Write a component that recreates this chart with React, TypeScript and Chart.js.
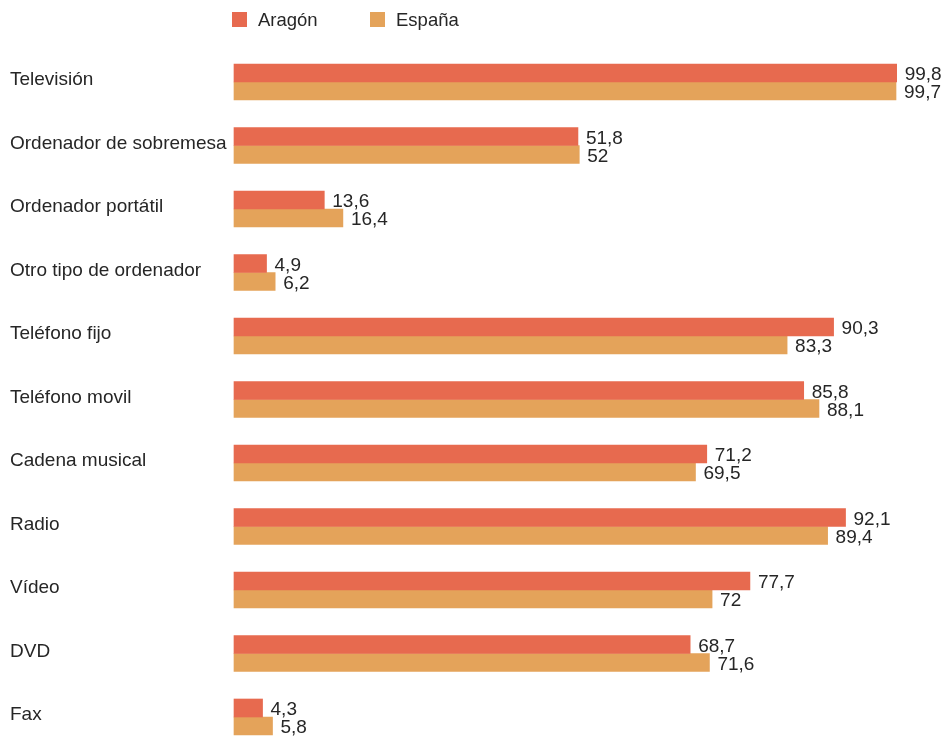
import React, { useEffect, useRef } from "react";
import { Chart, registerables } from "chart.js";

Chart.register(...registerables);

const categories = [
  "Televisión",
  "Ordenador de sobremesa",
  "Ordenador portátil",
  "Otro tipo de ordenador",
  "Teléfono fijo",
  "Teléfono movil",
  "Cadena musical",
  "Radio",
  "Vídeo",
  "DVD",
  "Fax",
];
const aragon = [99.8, 51.8, 13.6, 4.9, 90.3, 85.8, 71.2, 92.1, 77.7, 68.7, 4.3];
const espana = [99.7, 52, 16.4, 6.2, 83.3, 88.1, 69.5, 89.4, 72, 71.6, 5.8];
const seriesNames = ["Aragón", "España"];
const seriesColors = ["#E76A4F", "#E4A35A"];

const FONT = "'Liberation Sans', Arial, Helvetica, sans-serif";
const FONT_SIZE = 19;
const TEXT = "#262626";

const fmt = (v: number) => String(v).replace(".", ",");

const valueLabels = {
  id: "valueLabels",
  afterDatasetsDraw(chart: any) {
    const ctx = chart.ctx;
    ctx.save();
    ctx.font = `${FONT_SIZE}px ${FONT}`;
    ctx.fillStyle = TEXT;
    ctx.textAlign = "left";
    ctx.textBaseline = "middle";
    chart.data.datasets.forEach((ds: any, di: number) => {
      const meta = chart.getDatasetMeta(di);
      meta.data.forEach((bar: any, i: number) => {
        ctx.fillText(fmt(ds.data[i]), bar.x + 8, bar.y + 2);
      });
    });
    ctx.restore();
  },
};

const customLegend = {
  id: "customLegend",
  afterDraw(chart: any) {
    const ctx = chart.ctx;
    const left = chart.chartArea.left - 2;
    ctx.save();
    ctx.font = `${FONT_SIZE - 0.5}px ${FONT}`;
    ctx.textAlign = "left";
    ctx.textBaseline = "middle";
    const offsets = [0, 138];
    seriesNames.forEach((name, i) => {
      const x = left + offsets[i];
      ctx.fillStyle = seriesColors[i];
      ctx.fillRect(x, 12, 15, 15);
      ctx.fillStyle = TEXT;
      ctx.fillText(name, x + 26, 21);
    });
    ctx.restore();
  },
};

export default function App() {
  const ref = useRef<HTMLCanvasElement | null>(null);
  useEffect(() => {
    document.body.style.margin = "0";
    const chart = new Chart(ref.current!, {
      type: "bar",
      data: {
        labels: categories,
        datasets: [
          { label: seriesNames[0], data: aragon, backgroundColor: seriesColors[0], barThickness: 18, clip: false as any },
          { label: seriesNames[1], data: espana, backgroundColor: seriesColors[1], barThickness: 18, clip: false as any },
        ],
      },
      options: {
        indexAxis: "y",
        animation: false,
        responsive: false,
        maintainAspectRatio: false,
        layout: { padding: { left: 10, right: 45, top: 82, bottom: 21 } },
        plugins: { legend: { display: false }, tooltip: { enabled: false } },
        scales: {
          x: { display: false, min: 0, max: 100 },
          y: {
            offset: false,
            grid: { display: false },
            border: { display: false },
            ticks: {
              crossAlign: "far",
              color: TEXT,
              font: { family: FONT, size: FONT_SIZE },
              padding: 0,
              labelOffset: -2,
            },
            afterFit: (scale: any) => {
              scale.width = 224;
            },
          },
        },
      },
      plugins: [valueLabels, customLegend],
    });
    return () => chart.destroy();
  }, []);
  return (
    <div style={{ position: "absolute", left: 0, top: 0, width: 943, height: 738 }}>
      <canvas ref={ref} width={943} height={738} style={{ display: "block" }} />
    </div>
  );
}
